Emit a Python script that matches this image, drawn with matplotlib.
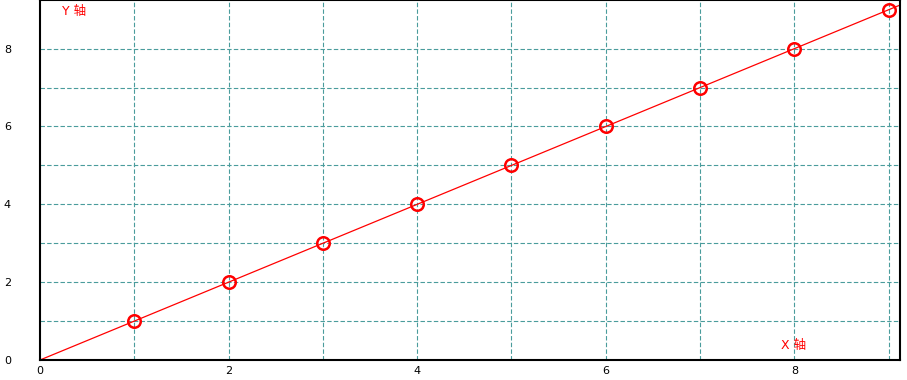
import matplotlib
matplotlib.use("Agg")
import matplotlib.pyplot as plt
import numpy as np

plt.rcParams['font.family'] = ['DejaVu Sans', 'Noto Sans CJK SC']

x_vals = [1, 2, 3, 4, 5, 6, 7, 8, 9]
y_vals = [1, 2, 3, 4, 5, 6, 7, 8, 9]
x_ticks = [0, 2, 4, 6, 8]
y_ticks = [0, 2, 4, 6, 8]
x_grid = [1, 2, 3, 4, 5, 6, 7, 8, 9]
y_grid = [1, 2, 3, 4, 5, 6, 7, 8]

fig = plt.figure(figsize=(9.07, 3.8), dpi=100)
ax = fig.add_axes([40/907, 20/380, 860/907, 360/380])
ax.set_xlim(0, 9.12)
ax.set_ylim(0, 9.25)

grid_color = '#4a9c9c'
for g in x_grid:
    ax.axvline(g, color=grid_color, lw=0.8, ls=(0, (4, 2)), zorder=1)
for g in y_grid:
    ax.axhline(g, color=grid_color, lw=0.8, ls=(0, (4, 2)), zorder=1)

ax.axline((0, 0), slope=1, color='red', lw=0.9, zorder=2)
ax.plot(x_vals, y_vals, ls='none', marker='o', ms=9, mfc='none', mec='red', mew=1.8, zorder=3)

ax.set_xticks(x_ticks)
ax.set_yticks(y_ticks)
ax.tick_params(axis='both', length=0, labelsize=8)
ax.tick_params(axis='x', pad=4)
ax.tick_params(axis='y', pad=26)
for lbl in ax.get_yticklabels():
    lbl.set_horizontalalignment('left')

for s in ax.spines.values():
    s.set_linewidth(1.5)
    s.set_color('black')

fig.text(62/907, 1 - 12/380, 'Y 轴', color='red', fontsize=9,
         family=['DejaVu Sans', 'Noto Sans CJK SC'], va='center', ha='left')
fig.text(781/907, 1 - 346/380, 'X 轴', color='red', fontsize=9,
         family=['DejaVu Sans', 'Noto Sans CJK SC'], va='center', ha='left')

fig.savefig('out.png', dpi=100)
